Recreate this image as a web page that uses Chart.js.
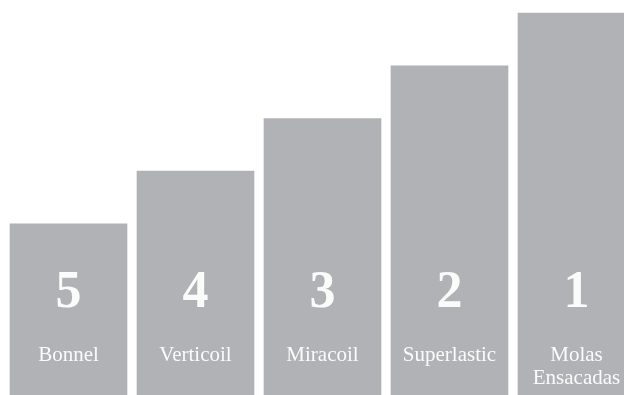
<!DOCTYPE html>
<html>
<head>
<meta charset="utf-8">
<script src="https://cdn.jsdelivr.net/npm/chart.js@4/dist/chart.umd.min.js"></script>
<style>
  html, body { margin: 0; padding: 0; background: #fff; overflow: hidden; }
  #wrap { position: absolute; left: 0; top: 0; width: 640px; height: 395px; }
</style>
</head>
<body>
<div id="wrap"><canvas id="chart" width="640" height="395"></canvas></div>
<script>
// data
const categories = ["Bonnel", "Verticoil", "Miracoil", "Superlastic", "Molas Ensacadas"];
const barLabels = [["Bonnel"], ["Verticoil"], ["Miracoil"], ["Superlastic"], ["Molas", "Ensacadas"]];
const ranks = ["5", "4", "3", "2", "1"];
const heights = [65, 85, 105, 125, 145];

const BAR_COLOR = "#b1b2b6";
const TEXT_COLOR = "#fbfbfb";

//draws the rank number and the name inside each bar
const insideText = {
    id: "insideText",
    afterDatasetsDraw(chart) {
        const ctx = chart.ctx;
        const meta = chart.getDatasetMeta(0);
        ctx.save();
        ctx.fillStyle = TEXT_COLOR;
        ctx.textAlign = "center";
        ctx.textBaseline = "middle";
        meta.data.forEach(function (bar, i) {
            ctx.font = "bold 52px 'Liberation Serif', serif";
            ctx.fillText(ranks[i], bar.x, 294);
            ctx.font = "21px 'Liberation Serif', serif";
            const lines = barLabels[i];
            for (let j = 0; j < lines.length; j++) {
                ctx.fillText(lines[j], bar.x, 355 + j * 23);
            }
        });
        ctx.restore();
    }
};

new Chart(document.getElementById("chart").getContext("2d"), {
    type: "bar",
    data: {
        labels: categories,
        datasets: [{
            data: heights,
            backgroundColor: BAR_COLOR,
            borderWidth: 0,
            barThickness: 117
        }]
    },
    options: {
        responsive: false,
        animation: false,
        events: [],
        layout: { padding: { left: 5, right: 0, top: 0, bottom: 0 } },
        scales: {
            x: { display: false, grid: { display: false } },
            y: { display: false, min: 0, max: 150 }
        },
        plugins: {
            legend: { display: false },
            tooltip: { enabled: false }
        }
    },
    plugins: [insideText]
});
</script>
</body>
</html>
